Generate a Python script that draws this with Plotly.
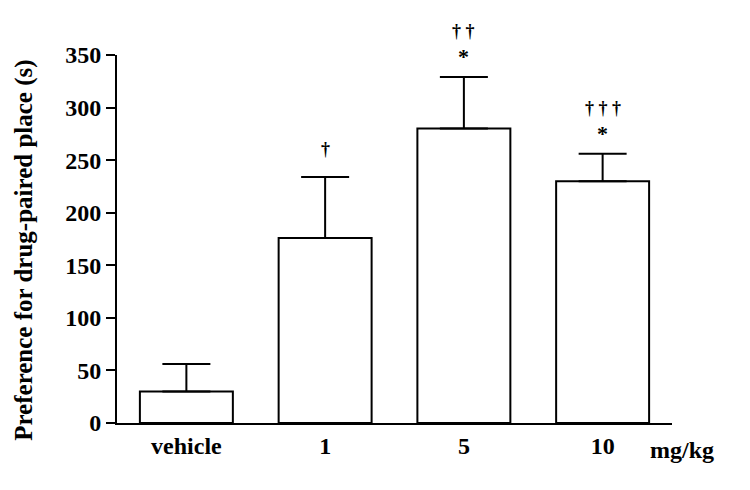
import plotly.graph_objects as go

# Werte
groups = ["vehicle", "1", "5", "10"]
means = [30, 176, 280, 230]
sem = [26, 58, 49, 26]
stars = ["", "", "*", "*"]
daggers = ["", "†", "† †", "† † †"]

FONT = "Liberation Serif"

fig = go.Figure()
fig.add_trace(go.Bar(
    x=groups,
    y=means,
    width=0.67,
    marker=dict(color="white", line=dict(color="black", width=2)),
    error_y=dict(type="data", array=sem, arrayminus=[0] * len(sem),
                 symmetric=False, color="black", thickness=2, width=24),
    showlegend=False,
))

# Signifikanzzeichen über den Fehlerbalken (x als Index, sonst wird "5" als Zahl gelesen)
for i, (m, e, s, d) in enumerate(zip(means, sem, stars, daggers)):
    top = m + e
    if s:
        fig.add_annotation(x=i, y=top, text=s, showarrow=False, yanchor="bottom",
                           yshift=6, font=dict(family=FONT, size=22, color="black", weight="bold"))
    if d:
        fig.add_annotation(x=i, y=top, text=d, showarrow=False, yanchor="bottom",
                           yshift=34 if s else 16,
                           font=dict(family=FONT, size=18, color="black"))

fig.add_annotation(x=1.018, y=0, xref="paper", yref="paper", text="mg/kg",
                   showarrow=False, xanchor="center", yanchor="middle", yshift=-27,
                   font=dict(family=FONT, size=24, color="black", weight="bold"))

# y-Achsentitel als Annotation, damit er etwas tiefer sitzen kann
fig.add_annotation(x=-0.168, y=0.47, xref="paper", yref="paper",
                   text="Preference for drug-paired place (s)", textangle=-90,
                   showarrow=False, xanchor="center", yanchor="middle", borderpad=0,
                   font=dict(family=FONT, size=25, color="black", weight="bold"))

# Seite hat 8px Body-Rand -> Figur etwas kleiner, Ränder entsprechend verschoben
fig.update_layout(
    width=742, height=482,
    margin=dict(l=109, r=78, t=47, b=67),
    plot_bgcolor="white", paper_bgcolor="white",
    font=dict(family=FONT, size=24, color="black", weight="bold"),
    bargap=0.33,
)
fig.update_xaxes(range=[-0.5, 3.5], showline=True, linecolor="black", linewidth=2,
                 ticks="", showgrid=False, zeroline=False, automargin=False,
                 tickfont=dict(family=FONT, size=24, color="black", weight="bold"))
fig.update_yaxes(range=[0, 350], tickvals=[0, 50, 100, 150, 200, 250, 300, 350],
                 showline=True, linecolor="black", linewidth=2,
                 ticks="outside", ticklen=9, tickwidth=2, tickcolor="black",
                 showgrid=False, zeroline=False, automargin=False,
                 tickfont=dict(family=FONT, size=24, color="black", weight="bold"))

fig.write_html("out.html")
